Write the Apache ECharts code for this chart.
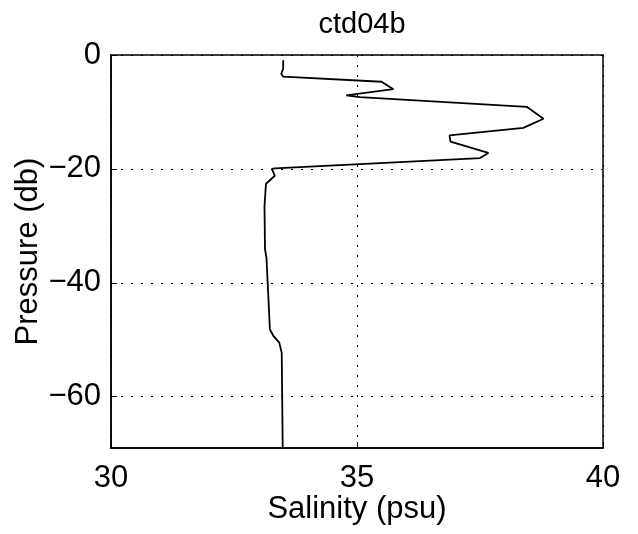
<!DOCTYPE html>
<html>
<head>
<meta charset="utf-8">
<script src="https://cdn.jsdelivr.net/npm/echarts@6/dist/echarts.min.js"></script>
<style>
  html, body { margin: 0; padding: 0; background: #fff; }
  #main { width: 638px; height: 534px; }
</style>
</head>
<body>
<div id="main"></div>
<script>
// salinity (psu) and pressure (db)
var salinity = [33.50, 33.50, 33.46, 33.50, 35.50, 35.74, 34.78, 35.06, 38.45, 38.79,
                38.38, 36.88, 36.90, 37.67, 37.50, 33.33, 33.27, 33.33, 33.15, 33.12,
                33.13, 33.16, 33.23, 33.30, 33.42, 33.47, 33.49];
var pressure = [-0.9, -2.4, -3.3, -3.8, -4.7, -6.0, -7.1, -7.4, -9.1, -11.2,
                -12.8, -14.1, -15.2, -17.2, -18.1, -19.9, -20.0, -21.2, -22.6, -26.5,
                -34.1, -35.6, -48.2, -49.3, -50.5, -52.3, -69.0];
var pressureTicks = [0, -20, -40, -60];

var profile = salinity.map(function (s, i) { return [s, pressure[i]]; });

var chart = echarts.init(document.getElementById('main'));

var font = 'Liberation Sans, Arial, Helvetica, sans-serif';

var option = {
    animation: false,
    title: {
        text: 'ctd04b',
        left: 357,
        top: 5,
        textAlign: 'center',
        textStyle: { fontFamily: font, fontSize: 29, fontWeight: 'normal', color: '#000' }
    },
    grid: {
        left: 111, right: 35, top: 55, bottom: 86,
        outerBoundsMode: 'none',
        show: true, borderColor: '#000', borderWidth: 1.5
    },
    xAxis: {
        type: 'value',
        min: 30, max: 40, interval: 5,
        name: 'Salinity (psu)',
        nameLocation: 'middle',
        nameGap: 46,
        nameMoveOverlap: false,
        nameTextStyle: { fontFamily: font, fontSize: 31, color: '#000', verticalAlign: 'top' },
        axisLine: { show: true, onZero: false, lineStyle: { color: '#000', width: 1.5 } },
        axisTick: { show: true, inside: true, length: 6, lineStyle: { color: '#000' } },
        axisLabel: { fontFamily: font, fontSize: 31, color: '#000', margin: 15 },
        splitLine: { show: true, lineStyle: { color: '#000', type: [2, 8], width: 1 } }
    },
    yAxis: {
        type: 'value',
        min: -69, max: 0,
        name: 'Pressure (db)',
        nameLocation: 'middle',
        nameGap: 67,
        nameMoveOverlap: false,
        nameTextStyle: { fontFamily: font, fontSize: 31, color: '#000', verticalAlign: 'bottom' },
        axisLine: { show: true, onZero: false, lineStyle: { color: '#000', width: 1.5 } },
        axisTick: {
            show: true, inside: true, length: 6, lineStyle: { color: '#000' },
            customValues: pressureTicks
        },
        axisLabel: {
            fontFamily: font, fontSize: 31, color: '#000', margin: 10,
            customValues: pressureTicks,
            formatter: function (v) { return String(v).replace('-', '\u2212'); }
        },
        splitLine: { show: true, lineStyle: { color: '#000', type: [2, 8], width: 1 } }
    },
    series: [{
        type: 'line',
        data: profile,
        showSymbol: false,
        lineStyle: { color: '#000', width: 1.8 }
    }]
};

chart.setOption(option);
</script>
</body>
</html>
